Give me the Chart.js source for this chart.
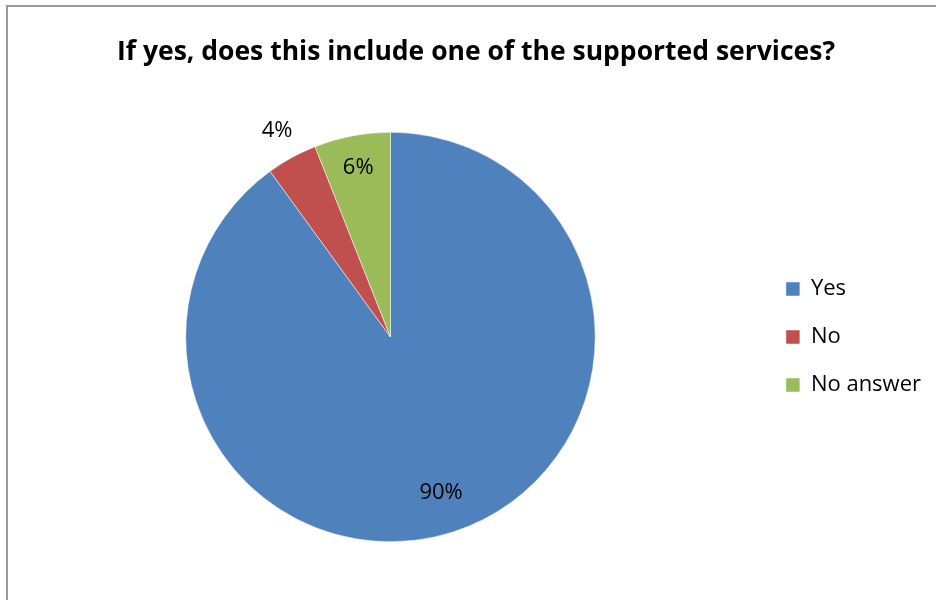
<!DOCTYPE html>
<html>
<head>
<meta charset="utf-8">
<script src="https://cdn.jsdelivr.net/npm/chart.js@4/dist/chart.umd.min.js"></script>
<style>
  html, body { margin: 0; padding: 0; background: #fff; }
  #wrap { position: relative; width: 936px; height: 600px; overflow: hidden; }
  #frame { position: absolute; left: 6px; top: 5px; width: 1000px; height: 700px;
           border-left: 2px solid #9a9a9a; border-top: 2px solid #9a9a9a; }
  canvas { position: absolute; left: 0; top: 0; }
</style>
</head>
<body>
<div id="wrap">
  <div id="frame"></div>
  <canvas id="chart" width="936" height="600"></canvas>
</div>
<script>
// ====== Data ======
const titleText = "If yes, does this include one of the supported services?";
const categories = ["Yes", "No", "No answer"];
const shares = [90, 4, 6];
const sliceColors = ["#4F81BD", "#C0504D", "#9BBB59"];

// ====== Percent labels on slices ======
const sliceLabels = {
  id: "sliceLabels",
  afterDatasetsDraw(chart) {
    const ctx = chart.ctx;
    const meta = chart.getDatasetMeta(0);
    ctx.save();
    ctx.font = "22px 'Open Sans'";
    ctx.fillStyle = "#000";
    ctx.textAlign = "center";
    ctx.textBaseline = "middle";
    meta.data.forEach((arc, i) => {
      const p = arc.getProps(["x", "y", "startAngle", "endAngle", "outerRadius"], true);
      const mid = (p.startAngle + p.endAngle) / 2;
      const k = shares[i] < 5 ? 1.15 : (shares[i] < 10 ? 0.84 : 0.8);
      const r = p.outerRadius * k;
      ctx.fillText(shares[i] + "%", p.x + Math.cos(mid) * r, p.y + Math.sin(mid) * r);
    });
    ctx.restore();
  }
};

// ====== Chart Setup ======
const ctx = document.getElementById("chart").getContext("2d");
const chart = new Chart(ctx, {
  type: "pie",
  data: {
    labels: categories,
    datasets: [{
      data: shares,
      backgroundColor: sliceColors,
      borderColor: "#ffffff",
      borderWidth: 0.5
    }]
  },
  options: {
    responsive: false,
    animation: false,
    layout: { padding: { left: 21, right: 5, top: 0, bottom: 58 } },
    plugins: {
      title: {
        display: true,
        text: titleText,
        color: "#000",
        font: { family: "'Open Sans'", size: 26.5, weight: "bold", lineHeight: 1.2 },
        padding: { top: 37, bottom: 63.2 }
      },
      legend: {
        position: "right",
        fullSize: false,
        maxWidth: 174,
        labels: {
          color: "#000",
          font: { family: "'Open Sans'", size: 22 },
          boxWidth: 14,
          boxHeight: 14,
          padding: 26
        }
      },
      tooltip: { enabled: false }
    }
  },
  plugins: [sliceLabels]
});
</script>
</body>
</html>
